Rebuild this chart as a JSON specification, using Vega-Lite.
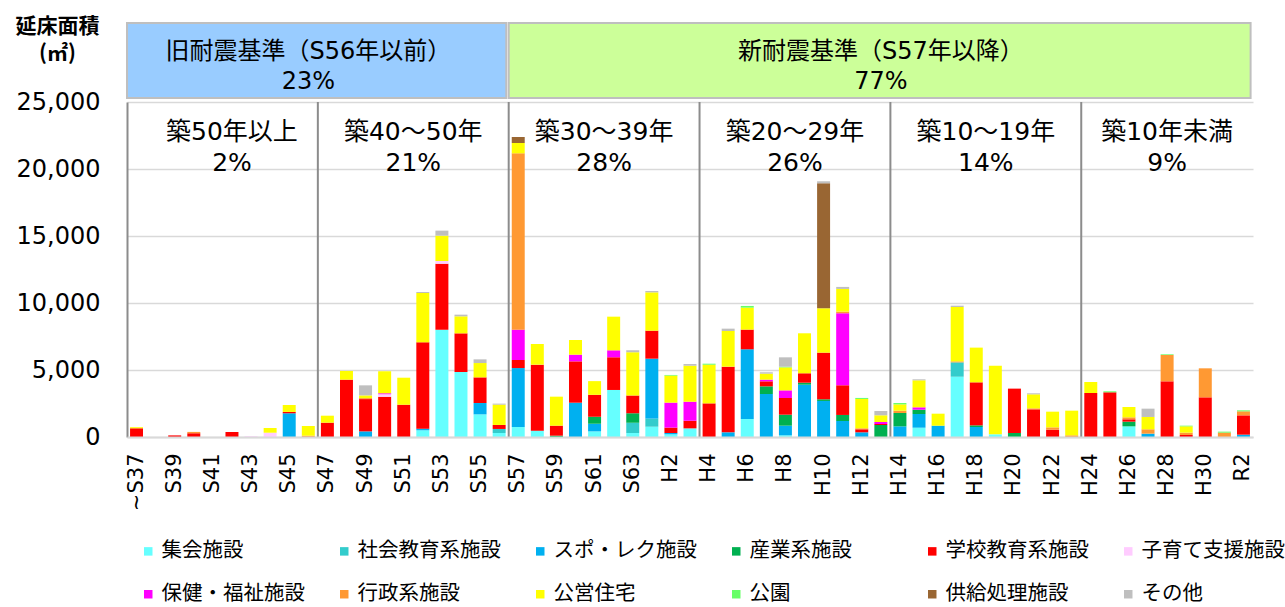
{
  "$schema": "https://vega.github.io/schema/vega-lite/v6.json",
  "width": 1126,
  "height": 335,
  "autosize": {"type": "none"},
  "padding": {"left": 127, "top": 102, "right": 32, "bottom": 170},
  "config": {"view": {"stroke": null}, "font": "DejaVu Sans"},
  "datasets": {
    "headers": [
      {"start": "~S37", "end": "S56", "at": "S46", "kind": "旧", "label": "旧耐震基準（S56年以前）\n23%"},
      {"start": "S57", "end": "R2", "at": "H13", "kind": "新", "label": "新耐震基準（S57年以降）\n77%"}
    ],
    "bounds": [{"at": "S47"}, {"at": "S57"}, {"at": "H4"}, {"at": "H14"}, {"at": "H24"}],
    "agesA": [
      {"at": "S42", "label": "築50年以上\n2%"},
      {"at": "H28", "label": "築10年未満\n9%"}
    ],
    "agesB": [
      {"at": "S52", "label": "築40～50年\n21%"},
      {"at": "S62", "label": "築30～39年\n28%"},
      {"at": "H9", "label": "築20～29年\n26%"},
      {"at": "H19", "label": "築10～19年\n14%"}
    ],
    "bars": [
      {"year": "~S37", "type": "学校教育系施設", "value": 650},
      {"year": "~S37", "type": "公営住宅", "value": 80},
      {"year": "S39", "type": "学校教育系施設", "value": 120},
      {"year": "S40", "type": "学校教育系施設", "value": 280},
      {"year": "S40", "type": "行政系施設", "value": 100},
      {"year": "S42", "type": "学校教育系施設", "value": 380},
      {"year": "S43", "type": "子育て支援施設", "value": 50},
      {"year": "S44", "type": "子育て支援施設", "value": 320},
      {"year": "S44", "type": "公営住宅", "value": 350},
      {"year": "S45", "type": "スポ・レク施設", "value": 1770},
      {"year": "S45", "type": "学校教育系施設", "value": 100},
      {"year": "S45", "type": "公営住宅", "value": 520},
      {"year": "S46", "type": "行政系施設", "value": 100},
      {"year": "S46", "type": "公営住宅", "value": 720},
      {"year": "S47", "type": "学校教育系施設", "value": 1070},
      {"year": "S47", "type": "公営住宅", "value": 520},
      {"year": "S48", "type": "学校教育系施設", "value": 4280},
      {"year": "S48", "type": "公営住宅", "value": 650},
      {"year": "S49", "type": "スポ・レク施設", "value": 420},
      {"year": "S49", "type": "学校教育系施設", "value": 2410},
      {"year": "S49", "type": "行政系施設", "value": 75},
      {"year": "S49", "type": "公営住宅", "value": 200},
      {"year": "S49", "type": "その他", "value": 750},
      {"year": "S50", "type": "学校教育系施設", "value": 3010},
      {"year": "S50", "type": "子育て支援施設", "value": 180},
      {"year": "S50", "type": "保健・福祉施設", "value": 70},
      {"year": "S50", "type": "公営住宅", "value": 1640},
      {"year": "S51", "type": "学校教育系施設", "value": 2410},
      {"year": "S51", "type": "公営住宅", "value": 2015},
      {"year": "S52", "type": "集会施設", "value": 500},
      {"year": "S52", "type": "スポ・レク施設", "value": 125},
      {"year": "S52", "type": "学校教育系施設", "value": 6440},
      {"year": "S52", "type": "公営住宅", "value": 3680},
      {"year": "S52", "type": "その他", "value": 75},
      {"year": "S53", "type": "集会施設", "value": 8010},
      {"year": "S53", "type": "学校教育系施設", "value": 4925},
      {"year": "S53", "type": "子育て支援施設", "value": 200},
      {"year": "S53", "type": "公営住宅", "value": 1890},
      {"year": "S53", "type": "その他", "value": 375},
      {"year": "S54", "type": "集会施設", "value": 4850},
      {"year": "S54", "type": "学校教育系施設", "value": 2885},
      {"year": "S54", "type": "公営住宅", "value": 1270},
      {"year": "S54", "type": "その他", "value": 125},
      {"year": "S55", "type": "集会施設", "value": 1690},
      {"year": "S55", "type": "スポ・レク施設", "value": 845},
      {"year": "S55", "type": "学校教育系施設", "value": 1915},
      {"year": "S55", "type": "公営住宅", "value": 1070},
      {"year": "S55", "type": "その他", "value": 275},
      {"year": "S56", "type": "集会施設", "value": 300},
      {"year": "S56", "type": "社会教育系施設", "value": 300},
      {"year": "S56", "type": "学校教育系施設", "value": 300},
      {"year": "S56", "type": "公営住宅", "value": 1515},
      {"year": "S56", "type": "その他", "value": 75},
      {"year": "S57", "type": "集会施設", "value": 745},
      {"year": "S57", "type": "スポ・レク施設", "value": 4400},
      {"year": "S57", "type": "学校教育系施設", "value": 600},
      {"year": "S57", "type": "保健・福祉施設", "value": 2265},
      {"year": "S57", "type": "行政系施設", "value": 13160},
      {"year": "S57", "type": "公営住宅", "value": 770},
      {"year": "S57", "type": "供給処理施設", "value": 450},
      {"year": "S58", "type": "集会施設", "value": 475},
      {"year": "S58", "type": "学校教育系施設", "value": 4925},
      {"year": "S58", "type": "公営住宅", "value": 1540},
      {"year": "S59", "type": "産業系施設", "value": 100},
      {"year": "S59", "type": "学校教育系施設", "value": 745},
      {"year": "S59", "type": "公営住宅", "value": 2165},
      {"year": "S60", "type": "スポ・レク施設", "value": 2560},
      {"year": "S60", "type": "学校教育系施設", "value": 3085},
      {"year": "S60", "type": "保健・福祉施設", "value": 500},
      {"year": "S60", "type": "公営住宅", "value": 1095},
      {"year": "S61", "type": "集会施設", "value": 420},
      {"year": "S61", "type": "スポ・レク施設", "value": 570},
      {"year": "S61", "type": "産業系施設", "value": 520},
      {"year": "S61", "type": "学校教育系施設", "value": 1640},
      {"year": "S61", "type": "公営住宅", "value": 1020},
      {"year": "S62", "type": "集会施設", "value": 3510},
      {"year": "S62", "type": "学校教育系施設", "value": 2440},
      {"year": "S62", "type": "保健・福祉施設", "value": 520},
      {"year": "S62", "type": "公営住宅", "value": 2510},
      {"year": "S63", "type": "集会施設", "value": 300},
      {"year": "S63", "type": "社会教育系施設", "value": 770},
      {"year": "S63", "type": "産業系施設", "value": 700},
      {"year": "S63", "type": "学校教育系施設", "value": 1320},
      {"year": "S63", "type": "公営住宅", "value": 3235},
      {"year": "S63", "type": "その他", "value": 150},
      {"year": "H1", "type": "集会施設", "value": 770},
      {"year": "H1", "type": "社会教育系施設", "value": 600},
      {"year": "H1", "type": "スポ・レク施設", "value": 4475},
      {"year": "H1", "type": "学校教育系施設", "value": 2090},
      {"year": "H1", "type": "公営住宅", "value": 2860},
      {"year": "H1", "type": "その他", "value": 100},
      {"year": "H2", "type": "集会施設", "value": 200},
      {"year": "H2", "type": "スポ・レク施設", "value": 100},
      {"year": "H2", "type": "学校教育系施設", "value": 400},
      {"year": "H2", "type": "保健・福祉施設", "value": 1865},
      {"year": "H2", "type": "公営住宅", "value": 2015},
      {"year": "H2", "type": "公園", "value": 50},
      {"year": "H3", "type": "集会施設", "value": 645},
      {"year": "H3", "type": "学校教育系施設", "value": 570},
      {"year": "H3", "type": "保健・福祉施設", "value": 1420},
      {"year": "H3", "type": "公営住宅", "value": 2685},
      {"year": "H3", "type": "その他", "value": 125},
      {"year": "H4", "type": "学校教育系施設", "value": 2510},
      {"year": "H4", "type": "公営住宅", "value": 2885},
      {"year": "H4", "type": "公園", "value": 75},
      {"year": "H5", "type": "スポ・レク施設", "value": 350},
      {"year": "H5", "type": "学校教育系施設", "value": 4900},
      {"year": "H5", "type": "公営住宅", "value": 2660},
      {"year": "H5", "type": "その他", "value": 175},
      {"year": "H6", "type": "集会施設", "value": 1345},
      {"year": "H6", "type": "スポ・レク施設", "value": 5200},
      {"year": "H6", "type": "学校教育系施設", "value": 1470},
      {"year": "H6", "type": "公営住宅", "value": 1640},
      {"year": "H6", "type": "公園", "value": 125},
      {"year": "H7", "type": "スポ・レク施設", "value": 3210},
      {"year": "H7", "type": "産業系施設", "value": 570},
      {"year": "H7", "type": "学校教育系施設", "value": 375},
      {"year": "H7", "type": "保健・福祉施設", "value": 125},
      {"year": "H7", "type": "公営住宅", "value": 450},
      {"year": "H7", "type": "その他", "value": 100},
      {"year": "H8", "type": "集会施設", "value": 125},
      {"year": "H8", "type": "スポ・レク施設", "value": 720},
      {"year": "H8", "type": "産業系施設", "value": 820},
      {"year": "H8", "type": "学校教育系施設", "value": 1245},
      {"year": "H8", "type": "保健・福祉施設", "value": 570},
      {"year": "H8", "type": "公営住宅", "value": 1715},
      {"year": "H8", "type": "公園", "value": 50},
      {"year": "H8", "type": "その他", "value": 700},
      {"year": "H9", "type": "スポ・レク施設", "value": 3905},
      {"year": "H9", "type": "産業系施設", "value": 150},
      {"year": "H9", "type": "学校教育系施設", "value": 700},
      {"year": "H9", "type": "公営住宅", "value": 2985},
      {"year": "H10", "type": "スポ・レク施設", "value": 2690},
      {"year": "H10", "type": "産業系施設", "value": 125},
      {"year": "H10", "type": "学校教育系施設", "value": 3480},
      {"year": "H10", "type": "公営住宅", "value": 3310},
      {"year": "H10", "type": "供給処理施設", "value": 9330},
      {"year": "H10", "type": "その他", "value": 150},
      {"year": "H11", "type": "スポ・レク施設", "value": 1195},
      {"year": "H11", "type": "産業系施設", "value": 450},
      {"year": "H11", "type": "学校教育系施設", "value": 2215},
      {"year": "H11", "type": "保健・福祉施設", "value": 5375},
      {"year": "H11", "type": "行政系施設", "value": 125},
      {"year": "H11", "type": "公営住宅", "value": 1690},
      {"year": "H11", "type": "その他", "value": 150},
      {"year": "H12", "type": "スポ・レク施設", "value": 350},
      {"year": "H12", "type": "学校教育系施設", "value": 225},
      {"year": "H12", "type": "行政系施設", "value": 75},
      {"year": "H12", "type": "公営住宅", "value": 2190},
      {"year": "H12", "type": "公園", "value": 75},
      {"year": "H13", "type": "産業系施設", "value": 895},
      {"year": "H13", "type": "学校教育系施設", "value": 75},
      {"year": "H13", "type": "保健・福祉施設", "value": 150},
      {"year": "H13", "type": "公営住宅", "value": 500},
      {"year": "H13", "type": "その他", "value": 320},
      {"year": "H14", "type": "スポ・レク施設", "value": 795},
      {"year": "H14", "type": "産業系施設", "value": 995},
      {"year": "H14", "type": "行政系施設", "value": 175},
      {"year": "H14", "type": "公営住宅", "value": 470},
      {"year": "H14", "type": "公園", "value": 100},
      {"year": "H15", "type": "集会施設", "value": 695},
      {"year": "H15", "type": "スポ・レク施設", "value": 1020},
      {"year": "H15", "type": "産業系施設", "value": 325},
      {"year": "H15", "type": "保健・福祉施設", "value": 175},
      {"year": "H15", "type": "公営住宅", "value": 2015},
      {"year": "H15", "type": "その他", "value": 75},
      {"year": "H16", "type": "スポ・レク施設", "value": 845},
      {"year": "H16", "type": "公営住宅", "value": 895},
      {"year": "H17", "type": "集会施設", "value": 4500},
      {"year": "H17", "type": "社会教育系施設", "value": 1070},
      {"year": "H17", "type": "行政系施設", "value": 75},
      {"year": "H17", "type": "公営住宅", "value": 4055},
      {"year": "H17", "type": "その他", "value": 100},
      {"year": "H18", "type": "スポ・レク施設", "value": 745},
      {"year": "H18", "type": "産業系施設", "value": 125},
      {"year": "H18", "type": "学校教育系施設", "value": 3210},
      {"year": "H18", "type": "公営住宅", "value": 2590},
      {"year": "H19", "type": "集会施設", "value": 200},
      {"year": "H19", "type": "公営住宅", "value": 5125},
      {"year": "H20", "type": "産業系施設", "value": 300},
      {"year": "H20", "type": "学校教育系施設", "value": 3310},
      {"year": "H21", "type": "学校教育系施設", "value": 2065},
      {"year": "H21", "type": "行政系施設", "value": 75},
      {"year": "H21", "type": "公営住宅", "value": 1045},
      {"year": "H21", "type": "その他", "value": 75},
      {"year": "H22", "type": "学校教育系施設", "value": 545},
      {"year": "H22", "type": "行政系施設", "value": 175},
      {"year": "H22", "type": "公営住宅", "value": 1170},
      {"year": "H23", "type": "行政系施設", "value": 125},
      {"year": "H23", "type": "公営住宅", "value": 1840},
      {"year": "H24", "type": "学校教育系施設", "value": 3285},
      {"year": "H24", "type": "公営住宅", "value": 820},
      {"year": "H25", "type": "学校教育系施設", "value": 3335},
      {"year": "H25", "type": "公園", "value": 75},
      {"year": "H26", "type": "集会施設", "value": 795},
      {"year": "H26", "type": "産業系施設", "value": 350},
      {"year": "H26", "type": "学校教育系施設", "value": 175},
      {"year": "H26", "type": "行政系施設", "value": 150},
      {"year": "H26", "type": "公営住宅", "value": 770},
      {"year": "H27", "type": "スポ・レク施設", "value": 250},
      {"year": "H27", "type": "行政系施設", "value": 325},
      {"year": "H27", "type": "公営住宅", "value": 920},
      {"year": "H27", "type": "その他", "value": 620},
      {"year": "H28", "type": "学校教育系施設", "value": 4155},
      {"year": "H28", "type": "行政系施設", "value": 1965},
      {"year": "H28", "type": "公園", "value": 50},
      {"year": "H29", "type": "学校教育系施設", "value": 150},
      {"year": "H29", "type": "行政系施設", "value": 175},
      {"year": "H29", "type": "公営住宅", "value": 470},
      {"year": "H29", "type": "公園", "value": 50},
      {"year": "H30", "type": "学校教育系施設", "value": 2960},
      {"year": "H30", "type": "行政系施設", "value": 2165},
      {"year": "R1", "type": "行政系施設", "value": 325},
      {"year": "R1", "type": "公園", "value": 75},
      {"year": "R2", "type": "スポ・レク施設", "value": 175},
      {"year": "R2", "type": "学校教育系施設", "value": 1440},
      {"year": "R2", "type": "行政系施設", "value": 300},
      {"year": "R2", "type": "公園", "value": 75}
    ]
  },
  "layer": [
    {
      "data": {"name": "headers"},
      "mark": {"type": "rect", "stroke": "#bfbfbf", "strokeWidth": 2},
      "encoding": {
        "x": {"field": "start", "type": "nominal", "scale": {"type": "band"}, "bandPosition": -0.235, "title": null},
        "x2": {"field": "end", "bandPosition": 1.05},
        "y": {"datum": 25300, "type": "quantitative", "title": null},
        "y2": {"datum": 30900},
        "fill": {"field": "kind", "type": "nominal", "scale": {"domain": ["旧", "新"], "range": ["#99CCFF", "#CCFF99"]}, "legend": null}
      }
    },
    {
      "data": {"name": "headers"},
      "mark": {"type": "text", "font": "DejaVu Sans, Noto Sans CJK JP", "fontSize": 24, "baseline": "top", "align": "center", "lineBreak": "\n", "lineHeight": 30, "color": "#000000"},
      "encoding": {
        "x": {"field": "at", "type": "nominal", "scale": {"type": "band"}, "bandPosition": 0.5, "title": null},
        "y": {"datum": 29590, "type": "quantitative", "title": null},
        "text": {"field": "label"}
      }
    },
    {
      "data": {"name": "bars"},
      "transform": [
        {"calculate": "indexof(['集会施設','社会教育系施設','スポ・レク施設','産業系施設','学校教育系施設','子育て支援施設','保健・福祉施設','行政系施設','公営住宅','公園','供給処理施設','その他'], datum.type)", "as": "rank"}
      ],
      "mark": {"type": "bar"},
      "encoding": {
        "x": {
          "field": "year", "type": "nominal", "title": null,
          "scale": {"type": "band", "paddingInner": 0.32, "paddingOuter": 0.16,
            "domain": ["~S37","S38","S39","S40","S41","S42","S43","S44","S45","S46","S47","S48","S49","S50","S51","S52","S53","S54","S55","S56","S57","S58","S59","S60","S61","S62","S63","H1","H2","H3","H4","H5","H6","H7","H8","H9","H10","H11","H12","H13","H14","H15","H16","H17","H18","H19","H20","H21","H22","H23","H24","H25","H26","H27","H28","H29","H30","R1","R2"]},
          "axis": {
            "values": ["~S37","S39","S41","S43","S45","S47","S49","S51","S53","S55","S57","S59","S61","S63","H2","H4","H6","H8","H10","H12","H14","H16","H18","H20","H22","H24","H26","H28","H30","R2"],
            "labelAngle": -90, "labelAlign": "right", "labelBaseline": "middle", "labelPadding": 16,
            "labelFont": "DejaVu Sans", "labelFontSize": 21, "labelColor": "#000000", "labelOverlap": false,
            "ticks": false, "domainColor": "#d9d9d9", "domainWidth": 2, "grid": false
          }
        },
        "y": {
          "field": "value", "type": "quantitative", "stack": "zero",
          "scale": {"domain": [0, 25000], "nice": false},
          "axis": {
            "values": [0, 5000, 10000, 15000, 20000, 25000], "format": ",d",
            "labelFont": "DejaVu Sans", "labelFontSize": 24, "labelColor": "#000000", "labelPadding": 27,
            "ticks": false, "domainColor": "#8c8c8c", "domainWidth": 2,
            "grid": true, "gridColor": "#d9d9d9", "gridWidth": 1.5,
            "title": ["延床面積", "(㎡)"], "titleAngle": 0, "titleX": -70, "titleY": -87,
            "titleAlign": "center", "titleBaseline": "top", "titleFont": "Noto Sans CJK JP",
            "titleFontSize": 21, "titleFontWeight": "bold", "titleLineHeight": 27, "titleColor": "#000000"
          }
        },
        "order": {"field": "rank", "type": "quantitative", "sort": "ascending"},
        "color": {
          "field": "type", "type": "nominal",
          "sort": ["集会施設","社会教育系施設","スポ・レク施設","産業系施設","学校教育系施設","子育て支援施設","保健・福祉施設","行政系施設","公営住宅","公園","供給処理施設","その他"],
          "scale": {
            "domain": ["集会施設","社会教育系施設","スポ・レク施設","産業系施設","学校教育系施設","子育て支援施設","保健・福祉施設","行政系施設","公営住宅","公園","供給処理施設","その他"],
            "range": ["#66FFFF","#33CCCC","#00B0F0","#00B050","#FF0000","#FFCCFF","#FF00FF","#FF9933","#FFFF00","#66FF66","#996633","#BFBFBF"]
          },
          "legend": {
            "orient": "none", "legendX": 11, "legendY": 439, "columns": 6, "direction": "horizontal",
            "title": null, "symbolType": "square", "symbolSize": 72, "symbolStrokeWidth": 0,
            "labelFont": "Noto Sans CJK JP", "labelFontSize": 20.5, "labelColor": "#000000", "labelLimit": 300,
            "labelOffset": 3, "columnPadding": 29, "rowPadding": 22, "gridAlign": "all"
          }
        }
      }
    },
    {
      "data": {"name": "bounds"},
      "mark": {"type": "rule", "color": "#8c8c8c", "strokeWidth": 2},
      "encoding": {
        "x": {"field": "at", "type": "nominal", "scale": {"type": "band"}, "bandPosition": -0.235, "title": null}
      }
    },
    {
      "data": {"name": "agesA"},
      "mark": {"type": "text", "font": "DejaVu Sans, Noto Sans CJK JP", "fontSize": 25, "baseline": "top", "align": "center", "lineBreak": "\n", "lineHeight": 31, "color": "#000000"},
      "encoding": {
        "x": {"field": "at", "type": "nominal", "scale": {"type": "band"}, "bandPosition": 0.5, "title": null},
        "y": {"datum": 23694, "type": "quantitative", "title": null},
        "text": {"field": "label"}
      }
    },
    {
      "data": {"name": "agesB"},
      "mark": {"type": "text", "font": "DejaVu Sans, Noto Sans CJK JP", "fontSize": 25, "baseline": "top", "align": "center", "lineBreak": "\n", "lineHeight": 31, "color": "#000000"},
      "encoding": {
        "x": {"field": "at", "type": "nominal", "scale": {"type": "band"}, "bandPosition": -0.235, "title": null},
        "y": {"datum": 23694, "type": "quantitative", "title": null},
        "text": {"field": "label"}
      }
    }
  ]
}
